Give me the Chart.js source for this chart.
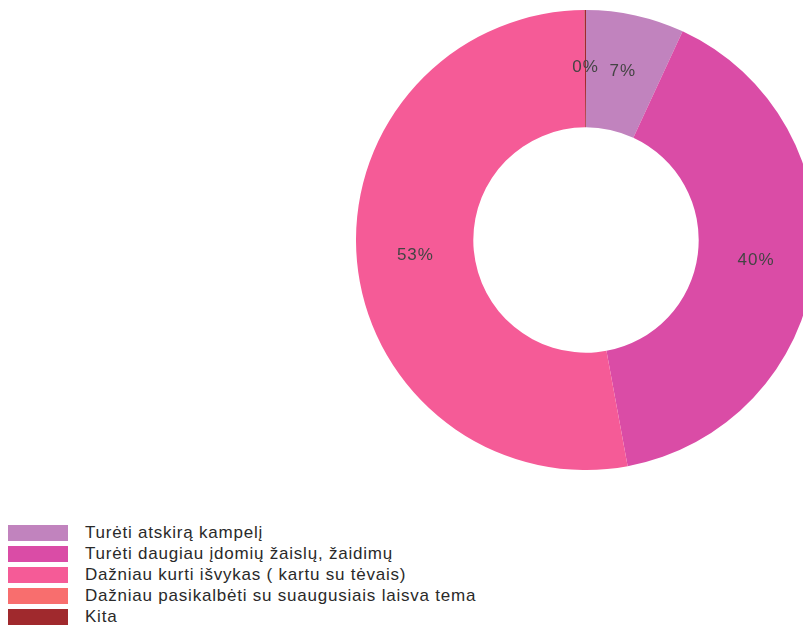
<!DOCTYPE html>
<html>
<head>
<meta charset="utf-8">
<script src="https://cdn.jsdelivr.net/npm/chart.js@4/dist/chart.umd.min.js"></script>
<style>
  html, body { margin: 0; padding: 0; width: 803px; height: 625px; overflow: hidden; background: #fff; }
  #wrap { position: absolute; left: 356px; top: 10px; width: 460px; height: 460px; }
  #legend { position: absolute; left: 8px; top: 525px; font-family: "Liberation Sans", Arial, sans-serif; font-size: 17px; color: #2a2a2a; }
  .item { position: relative; height: 21px; }
  .box { position: absolute; left: 0; top: 0; width: 60px; height: 16px; }
  .lbl { position: absolute; left: 77px; top: -2px; white-space: nowrap; line-height: 19px; letter-spacing: 0.78px; }
</style>
</head>
<body>
<div id="wrap"><canvas id="c" width="460" height="460"></canvas></div>
<div id="legend"></div>
<script>
const categories = [
  "Turėti atskirą kampelį",
  "Turėti daugiau įdomių žaislų, žaidimų",
  "Dažniau kurti išvykas ( kartu su tėvais)",
  "Dažniau pasikalbėti su suaugusiais laisva tema",
  "Kita"
];
const values = [6.9, 40.2, 52.8, 0, 0.1];
const colors = ["#C183BE", "#DA4CA6", "#F55B97", "#F86E6E", "#A0292D"];

const legend = document.getElementById('legend');
categories.forEach((c, i) => {
  const d = document.createElement('div');
  d.className = 'item';
  d.innerHTML = '<div class="box" style="background:' + colors[i] + '"></div><div class="lbl"></div>';
  d.querySelector('.lbl').textContent = c;
  legend.appendChild(d);
});

const labelPlugin = {
  id: 'pctLabels',
  afterDatasetsDraw(chart) {
    const ctx = chart.ctx;
    const meta = chart.getDatasetMeta(0);
    const total = values.reduce((a, b) => a + b, 0);
    ctx.save();
    ctx.font = '17px "Liberation Sans", Arial, sans-serif';
    if ('letterSpacing' in ctx) ctx.letterSpacing = '1px';
    ctx.fillStyle = '#444444';
    ctx.textAlign = 'center';
    ctx.textBaseline = 'middle';
    meta.data.forEach((arc, i) => {
      if (values[i] <= 0) return;
      const p = arc.tooltipPosition();
      ctx.fillText(Math.round(values[i] / total * 100) + '%', p.x, p.y - 1);
    });
    ctx.restore();
  }
};

new Chart(document.getElementById('c'), {
  type: 'doughnut',
  data: {
    labels: categories,
    datasets: [{ data: values, backgroundColor: colors, borderWidth: 0 }]
  },
  options: {
    responsive: false,
    animation: false,
    cutout: '49%',
    layout: { padding: 0 },
    plugins: { legend: { display: false }, tooltip: { enabled: false } }
  },
  plugins: [labelPlugin]
});
</script>
</body>
</html>
